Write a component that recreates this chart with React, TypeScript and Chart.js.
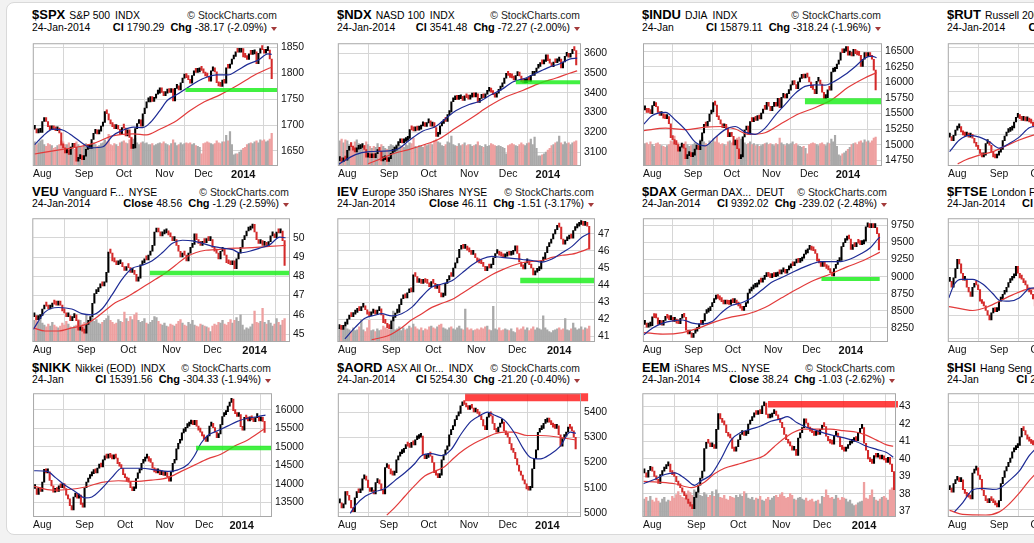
import React, { useEffect, useRef } from "react";
import { Chart, registerables } from "chart.js";

Chart.register(...registerables);

const FONT = "'Liberation Sans', Arial, Helvetica, sans-serif";

const monthLabels = ["Aug", "Sep", "Oct", "Nov", "Dec", "2014"];
const monthTicksStd = [4, 26, 47, 68.5, 89, 110];
const monthTicksNikk = [4, 27, 49, 70.6, 92.2, 112.5];

// ---------------- $SPX ----------------
const spxClose = [
  1692, 1685, 1686, 1686,
  1707, 1710, 1707, 1697, 1691, 1697, 1691, 1689, 1694, 1685, 1661, 1656, 1646, 1652, 1643, 1657, 1664, 1657, 1630, 1635, 1638, 1633,
  1640, 1653, 1655, 1655, 1672, 1684, 1689, 1683, 1688, 1698, 1705, 1726, 1722, 1710, 1702, 1697, 1693, 1699, 1692, 1682,
  1695, 1694, 1679, 1691, 1676, 1655, 1656, 1693, 1703, 1710, 1698, 1722, 1733, 1745, 1745, 1755, 1746, 1752, 1760, 1762, 1772, 1763, 1757,
  1762, 1768, 1763, 1770, 1747, 1771, 1772, 1768, 1782, 1791, 1798, 1792, 1788, 1781, 1796, 1805, 1802, 1803, 1807, 1806,
  1801, 1795, 1793, 1785, 1805, 1808, 1803, 1782, 1776, 1775, 1787, 1781, 1811, 1810, 1818, 1828, 1833, 1842, 1841, 1841, 1848,
  1832, 1831, 1827, 1838, 1837, 1838, 1842, 1819, 1839, 1848, 1846, 1839, 1844, 1845, 1828, 1790,
];
const spxVol = [
  25, 22, 24, 26,
  27, 22, 20, 23, 22, 21, 18, 19, 21, 22, 26, 25, 22, 22, 24, 20, 18, 17, 25, 22, 20, 19,
  22, 23, 22, 21, 23, 24, 22, 20, 21, 23, 24, 27, 25, 33, 22, 21, 23, 22, 20, 24,
  25, 26, 24, 23, 27, 30, 28, 29, 24, 22, 24, 25, 23, 24, 22, 22, 23, 21, 22, 23, 24, 23, 25,
  23, 22, 21, 23, 27, 24, 21, 22, 24, 22, 23, 24, 23, 24, 22, 23, 21, 20, 19, 12,
  23, 24, 25, 24, 23, 22, 23, 26, 24, 23, 25, 25, 32, 26, 36, 22, 11, 12, 12, 14, 16,
  18, 19, 22, 23, 24, 23, 25, 26, 24, 27, 26, 27, 25, 26, 28, 34,
];
const spxMa20: [number, number][] = [
  [0, 1662], [4.4, 1679], [9.7, 1692], [15, 1690], [20, 1679], [25.5, 1664], [29.8, 1656], [36, 1658], [41, 1679],
  [46.5, 1690], [52, 1696], [57, 1695], [61, 1705], [66, 1728], [70, 1748], [75, 1759], [80, 1771], [86, 1785],
  [91, 1793], [96, 1797], [102, 1797], [107, 1806], [112, 1817], [118, 1826], [123, 1838], [125, 1837],
];
const spxMa50: [number, number][] = [
  [0, 1644], [9.7, 1650], [20, 1656], [30.7, 1664], [41, 1679], [52, 1683], [59, 1681], [66, 1692], [75, 1709],
  [82, 1728], [89.5, 1745], [98, 1759], [107, 1777], [116, 1797], [123, 1809], [125, 1812],
];

// ---------------- $NDX ----------------
const ndxClose = [
  3058, 3052, 3063, 3060,
  3110, 3130, 3128, 3111, 3102, 3115, 3118, 3124, 3128, 3114, 3075, 3075, 3072, 3080, 3072, 3093, 3108, 3105, 3056, 3062, 3069, 3053,
  3068, 3095, 3104, 3110, 3134, 3148, 3151, 3147, 3154, 3160, 3170, 3214, 3213, 3208, 3213, 3212, 3217, 3233, 3238, 3230,
  3248, 3258, 3232, 3250, 3225, 3180, 3191, 3233, 3245, 3265, 3256, 3290, 3303, 3355, 3365, 3378, 3367, 3370, 3377, 3362, 3385, 3375, 3368,
  3378, 3384, 3380, 3395, 3352, 3372, 3378, 3375, 3393, 3408, 3420, 3404, 3391, 3378, 3398, 3414, 3430, 3448, 3474, 3499,
  3488, 3478, 3476, 3465, 3487, 3495, 3485, 3455, 3450, 3452, 3465, 3458, 3488, 3488, 3505, 3524, 3533, 3550, 3546, 3559, 3592,
  3563, 3550, 3532, 3556, 3552, 3560, 3571, 3526, 3556, 3585, 3590, 3580, 3598, 3620, 3614, 3541,
];
const ndxVol = [
  26, 28, 24, 27,
  26, 22, 24, 20, 25, 27, 23, 20, 19, 21, 25, 22, 20, 18, 20, 19, 23, 18, 22, 20, 18, 17,
  20, 22, 21, 20, 22, 24, 21, 20, 19, 22, 21, 24, 23, 29, 20, 19, 21, 20, 19, 22,
  21, 22, 23, 22, 26, 28, 25, 24, 21, 20, 22, 25, 24, 31, 22, 21, 20, 23, 21, 22, 24, 21, 22,
  22, 20, 21, 22, 25, 21, 20, 19, 22, 20, 21, 23, 22, 21, 20, 21, 20, 19, 18, 12,
  21, 22, 23, 22, 21, 20, 22, 24, 22, 21, 23, 24, 28, 22, 30, 18, 10, 10, 11, 12, 14,
  16, 18, 21, 22, 24, 25, 31, 24, 22, 25, 23, 24, 22, 24, 25, 26,
];
const ndxMa20: [number, number][] = [
  [-0.5, 3040], [8.3, 3088], [15.4, 3103], [26, 3107], [31.3, 3119], [36.6, 3159], [43.7, 3206], [50.7, 3230],
  [56, 3270], [61.3, 3309], [68.4, 3341], [73.7, 3356], [79, 3385], [86.1, 3420], [91.4, 3455], [98.4, 3475],
  [103.7, 3499], [110.8, 3530], [116.1, 3546], [121.5, 3570], [125.5, 3575],
];
const ndxMa50: [number, number][] = [
  [15, 3042], [22, 3068], [29, 3095], [36, 3112], [43.7, 3135], [52.5, 3167], [61.3, 3222], [70.2, 3277],
  [79, 3333], [87.9, 3380], [96.7, 3412], [105.5, 3448], [114.4, 3475], [121.5, 3499], [125.5, 3511],
];

// ---------------- $INDU ----------------
const induClose = [
  15559, 15521, 15520, 15500,
  15628, 15658, 15612, 15518, 15470, 15498, 15425, 15419, 15451, 15337, 15112, 15081, 15010, 15002, 14897, 14963, 15010, 14946, 14776, 14824, 14840, 14810,
  14834, 14930, 14938, 14922, 15063, 15191, 15326, 15300, 15376, 15494, 15529, 15677, 15636, 15452, 15401, 15334, 15273, 15328, 15258, 15130,
  15191, 15134, 14996, 15073, 14936, 14776, 14803, 15127, 15237, 15301, 15168, 15374, 15372, 15400, 15392, 15467, 15413, 15509, 15570, 15568, 15680, 15618, 15546,
  15616, 15639, 15618, 15747, 15594, 15762, 15784, 15751, 15822, 15877, 15962, 15976, 15968, 15901, 16010, 16065, 16073, 16072, 16097, 16086,
  16008, 15915, 15890, 15822, 16020, 16026, 15973, 15844, 15740, 15755, 15884, 15875, 16168, 16179, 16221, 16295, 16358, 16479, 16478, 16505, 16577,
  16441, 16470, 16425, 16531, 16462, 16445, 16437, 16257, 16374, 16482, 16418, 16459, 16415, 16374, 16198, 15879,
];
const induVol = [
  23, 24, 22, 25,
  22, 20, 23, 24, 22, 21, 20, 19, 21, 22, 26, 25, 31, 22, 24, 20, 21, 19, 25, 22, 20, 21,
  22, 24, 23, 21, 27, 30, 25, 23, 22, 26, 24, 28, 25, 31, 24, 22, 23, 22, 21, 25,
  26, 24, 25, 27, 29, 30, 28, 27, 24, 22, 23, 25, 22, 23, 21, 22, 20, 21, 22, 23, 24, 22, 23,
  22, 21, 23, 22, 29, 24, 22, 21, 23, 22, 23, 25, 22, 23, 21, 20, 19, 20, 18, 12,
  22, 23, 24, 23, 22, 21, 23, 24, 22, 21, 24, 23, 28, 25, 32, 20, 11, 10, 12, 13, 15,
  17, 19, 22, 23, 24, 22, 25, 26, 24, 27, 25, 26, 24, 26, 29, 30,
];
const induMa20: [number, number][] = [
  [-0.5, 15334], [4, 15469], [11.2, 15520], [16.6, 15394], [21.9, 15243], [27.3, 15042], [32.7, 14982], [38.1, 15117],
  [43.5, 15243], [48.9, 15293], [54.3, 15203], [59.7, 15168], [65.1, 15268], [70.5, 15469], [75.9, 15645], [81.3, 15821],
  [86.7, 15937], [92.1, 15962], [97.5, 15957], [102.9, 16022], [108.3, 16123], [113.7, 16249], [119.1, 16389], [122.7, 16425], [125.5, 16400],
];
const induMa50: [number, number][] = [
  [-0.5, 15228], [11.2, 15268], [21.9, 15243], [32.7, 15283], [41.7, 15293], [48.9, 15253], [56.1, 15168], [65.1, 15193],
  [74.1, 15344], [83.1, 15494], [92.1, 15595], [101.1, 15721], [110.1, 15922], [119.1, 16073], [125.5, 16158],
];

// ---------------- $RUT (left part visible) ----------------
const rutClose = [
  1046, 1040, 1049, 1058, 1062, 1064, 1055, 1050, 1048, 1052, 1046, 1050, 1044, 1036, 1030, 1025,
  1018, 1012, 1015, 1035, 1038, 1032, 1020, 1012, 1010, 1015, 1020, 1025, 1040, 1048, 1054, 1056,
  1058, 1062, 1072, 1080, 1085, 1078, 1075, 1077, 1074, 1078, 1072, 1070, 1065, 1060,
];
const rutMa20: [number, number][] = [
  [-0.1, 1021], [5.1, 1041], [10.4, 1049], [15.7, 1046], [20.9, 1038], [26.2, 1027], [31.4, 1035], [36.7, 1046], [42, 1062], [45.8, 1065],
];
const rutMa50: [number, number][] = [
  [4.2, 1000], [8.6, 1007], [15.7, 1015], [22.7, 1021], [29.7, 1031], [36.7, 1041], [43.7, 1049], [45.8, 1051],
];

// ---------------- VEU ----------------
const veuClose = [
  45.9, 45.75, 45.8, 45.95,
  46.3, 46.5, 46.45, 46.3, 46.4, 46.6, 46.55, 46.5, 46.7, 46.5, 46.2, 46.1, 45.9, 45.95, 45.7, 45.85, 46.0, 45.7, 45.2, 45.3, 45.15, 45.05,
  45.5, 45.7, 45.9, 46.6, 47.1, 47.2, 47.4, 47.6, 47.5, 47.7, 48.2, 49.25, 49.2, 48.8, 48.75, 48.6, 48.65, 48.7, 48.5, 48.3,
  48.5, 48.45, 48.2, 48.3, 48.1, 47.75, 47.9, 48.6, 48.7, 48.9, 48.85, 49.1, 49.3, 49.6, 50.3, 50.45, 50.3, 50.1, 50.2, 50.25, 50.35, 50.15, 50.05,
  49.85, 49.9, 49.6, 49.3, 49.0, 49.2, 49.1, 48.8, 49.2, 49.5, 49.65, 50.2, 49.9, 49.7, 49.6, 49.8, 49.75, 49.9, 49.85, 49.9,
  49.5, 49.3, 49.2, 48.9, 49.3, 49.4, 49.1, 48.7, 48.65, 48.6, 48.8, 48.4, 48.9, 49.2, 49.5, 49.9, 50.1, 50.35, 50.4, 50.5, 50.7,
  50.3, 49.9, 49.7, 49.85, 49.6, 49.7, 49.55, 49.8, 50.1, 50.2, 50.0, 50.3, 50.25, 50.35, 49.85, 48.56,
];
const veuVol = [
  22, 25, 20, 24,
  19, 17, 15, 18, 16, 20, 17, 15, 14, 16, 19, 17, 21, 18, 15, 14, 16, 17, 23, 22, 18, 20,
  28, 22, 20, 25, 21, 23, 19, 18, 20, 22, 24, 27, 22, 20, 18, 19, 23, 21, 20, 31,
  24, 21, 26, 23, 28, 30, 22, 20, 21, 24, 19, 18, 20, 22, 26, 25, 21, 18, 17, 19, 16, 15, 18,
  17, 16, 18, 21, 23, 19, 17, 16, 20, 18, 22, 17, 16, 15, 18, 17, 16, 15, 14, 10,
  16, 18, 17, 20, 19, 22, 18, 17, 20, 23, 19, 22, 25, 21, 28, 17, 12, 14, 13, 15, 18,
  32, 20, 19, 21, 35, 20, 18, 22, 19, 16, 18, 24, 20, 17, 22, 24,
];
const veuMa20: [number, number][] = [
  [-0.5, 45.24], [5.3, 46.14], [12, 46.38], [18.7, 46.3], [23.7, 46.06], [28.8, 46.0], [33.8, 46.3], [38.8, 47.03],
  [43.8, 47.84], [48.9, 48.41], [53.9, 48.57], [58.9, 48.81], [63.9, 49.22], [69, 49.71], [74, 49.87], [79, 49.84],
  [84, 49.71], [89, 49.55], [94.1, 49.46], [99.1, 49.38], [102.5, 49.22], [107.5, 49.3], [112.5, 49.46], [117.5, 49.63],
  [122.6, 50.03], [125.5, 50.0],
];
const veuMa50: [number, number][] = [
  [-0.5, 45.32], [5.3, 45.16], [12, 45.16], [18.7, 45.32], [25.4, 45.49], [30.4, 45.81], [35.4, 46.22], [40.4, 46.62],
  [45.4, 46.87], [50.5, 47.19], [55.5, 47.52], [60.5, 47.84], [65.5, 48.17], [70.5, 48.57], [75.5, 48.98], [80.5, 49.22],
  [85.6, 49.35], [90.6, 49.38], [97.3, 49.45], [104, 49.46], [110.7, 49.5], [117.4, 49.55], [125.5, 49.6],
];

// ---------------- IEV ----------------
const ievClose = [
  41.45, 41.4, 41.6, 41.7,
  42.0, 42.2, 42.15, 42.3, 42.4, 42.6, 42.5, 42.7, 42.75, 42.55, 42.3, 42.2, 42.35, 42.45, 42.3, 42.5, 42.6, 42.25, 41.8, 41.75, 41.5, 41.45,
  41.9, 42.1, 42.35, 42.4, 42.85, 43.2, 43.3, 43.25, 43.55, 43.7, 43.6, 44.6, 44.5, 44.15, 44.2, 44.1, 44.25, 44.15, 44.1, 43.9,
  44.2, 44.1, 43.8, 44.0, 43.55, 43.3, 43.4, 44.1, 44.3, 44.55, 44.5, 45.0, 45.3, 45.6, 46.1, 46.25, 46.15, 46.2, 46.05, 45.95, 45.8, 45.85, 45.6,
  45.35, 45.3, 45.25, 45.1, 44.85, 45.05, 45.0, 45.2, 45.6, 45.85, 45.9, 45.75, 45.7, 45.6, 45.7, 45.8, 45.75, 45.8, 46.0, 46.3,
  45.85, 45.35, 45.1, 44.95, 45.3, 45.45, 45.2, 45.0, 44.6, 44.75, 44.85, 44.95, 45.4, 45.5, 45.9, 46.25, 46.45, 46.7, 47.0, 47.25, 47.5,
  47.4, 46.7, 46.4, 46.6, 46.7, 46.85, 46.75, 47.2, 47.35, 47.45, 47.55, 47.6, 47.5, 47.55, 47.45, 46.11,
];
const ievVol = [
  14, 16, 12, 17,
  13, 12, 10, 14, 11, 12, 15, 23, 12, 10, 14, 22, 11, 12, 10, 13, 11, 12, 16, 14, 13, 12,
  14, 32, 12, 13, 15, 11, 14, 12, 13, 16, 14, 18, 15, 13, 12, 14, 11, 13, 12, 15,
  16, 14, 13, 15, 17, 18, 14, 13, 12, 14, 15, 13, 12, 14, 16, 13, 12, 34, 14, 12, 13, 11, 12,
  13, 12, 14, 13, 15, 16, 12, 11, 37, 13, 12, 14, 11, 12, 13, 12, 11, 13, 10, 9,
  14, 12, 13, 15, 12, 14, 11, 13, 15, 12, 14, 13, 12, 27, 14, 12, 10, 9, 11, 12, 13,
  14, 12, 13, 24, 12, 11, 13, 19, 14, 12, 13, 15, 12, 14, 13, 16,
];
const ievMa20: [number, number][] = [
  [2.8, 40.85], [7.8, 41.5], [12.8, 42.05], [17.8, 42.23], [21.2, 42.32], [26.2, 42.19], [31.2, 42.32], [36.2, 42.69],
  [41.3, 43.33], [46.3, 43.88], [51.3, 44.06], [56.3, 44.25], [61.3, 44.7], [66.3, 45.17], [71.3, 45.53], [76.3, 45.68],
  [81.4, 45.62], [86.4, 45.57], [91.4, 45.5], [96.4, 45.44], [101.4, 45.35], [106.4, 45.53], [111.4, 45.9], [116.4, 46.27],
  [121.5, 46.82], [125.3, 47.05],
];
const ievMa50: [number, number][] = [
  [16.2, 40.8], [24.6, 41.04], [31.2, 41.5], [36.2, 41.96], [41.3, 42.32], [46.3, 42.69], [51.3, 42.93], [56.3, 43.15],
  [61.3, 43.51], [66.3, 43.88], [71.3, 44.25], [76.3, 44.61], [81.4, 44.89], [86.4, 45.13], [91.4, 45.31], [96.4, 45.39],
  [101.4, 45.44], [106.4, 45.62], [111.4, 45.75], [116.4, 45.81], [121.5, 45.99], [125.3, 46.17],
];

// ---------------- $DAX ----------------
const daxClose = [
  8300, 8260, 8275, 8280,
  8410, 8400, 8395, 8300, 8355, 8290, 8360, 8420, 8390, 8370, 8390, 8345, 8365, 8320, 8310, 8390, 8420, 8405, 8215, 8160, 8175, 8110,
  8170, 8200, 8240, 8310, 8300, 8350, 8460, 8480, 8500, 8560, 8620, 8670, 8720, 8680, 8660, 8635, 8600, 8650, 8600, 8595,
  8660, 8620, 8640, 8600, 8570, 8540, 8505, 8560, 8610, 8760, 8790, 8820, 8845, 8850, 8890, 8930, 8920, 8960, 9000, 9020, 9005, 8985, 9030,
  9000, 9010, 9060, 9040, 9070, 9080, 9050, 9100, 9130, 9170, 9160, 9200, 9220, 9210, 9230, 9270, 9330, 9350, 9400, 9410,
  9390, 9380, 9340, 9230, 9200, 9150, 9170, 9150, 9120, 9100, 9060, 9010, 9120, 9180, 9220, 9240, 9440, 9500, 9535, 9580, 9552,
  9400, 9470, 9440, 9500, 9490, 9470, 9480, 9520, 9730, 9740, 9720, 9745, 9720, 9720, 9630, 9392,
];
const daxMa20: [number, number][] = [
  [-0.5, 8149], [4.4, 8250], [9.7, 8319], [14.9, 8351], [20.2, 8365], [25.4, 8319], [30.7, 8305], [35.9, 8342],
  [41.2, 8479], [46.5, 8580], [51.7, 8617], [57, 8686], [62.3, 8800], [67.5, 8915], [72.8, 8984], [78.1, 9053],
  [83.3, 9122], [88.6, 9181], [93.9, 9222], [99.1, 9222], [104.4, 9222], [109.7, 9259], [114.9, 9328], [120.2, 9420],
  [124.6, 9557], [125.5, 9580],
];
const daxMa50: [number, number][] = [
  [-0.5, 8181], [9.7, 8158], [20.2, 8181], [29, 8250], [37.8, 8342], [46.5, 8411], [55.3, 8456], [64.1, 8548],
  [72.8, 8686], [81.6, 8823], [90.4, 8947], [99.1, 9039], [107.9, 9144], [116.7, 9236], [125.5, 9360],
];

// ---------------- $FTSE (left part visible) ----------------
const ftseClose = [
  6545, 6520, 6560, 6600, 6640, 6620, 6580, 6550, 6555, 6520, 6500, 6480, 6520, 6535, 6530, 6510,
  6460, 6450, 6440, 6420, 6400, 6380, 6410, 6430, 6415, 6420, 6460, 6470, 6490, 6500, 6520, 6540,
  6550, 6560, 6570, 6610, 6580, 6560, 6555, 6540, 6530, 6510, 6500, 6490, 6470, 6440, 6420,
];
const ftseMa20: [number, number][] = [
  [-0.5, 6474], [2.5, 6534], [6, 6554], [12.1, 6554], [17.4, 6534], [22.7, 6493], [26.2, 6464], [31.4, 6460], [36.7, 6474], [42, 6514], [45.8, 6518],
];
const ftseMa50: [number, number][] = [
  [-0.5, 6437], [6.9, 6426], [12.1, 6420], [19.1, 6433], [26.2, 6460], [33.2, 6487], [40.2, 6510], [45.8, 6514],
];

// ---------------- $NIKK ----------------
const nikkClose = [
  13880, 13720, 13900, 13800, 14050, 14400, 14300, 14330, 14100, 13950, 13780, 13870, 13800, 13950, 13900, 14010, 13880,
  13700, 13600, 13420, 13300, 13650, 13750, 13620, 13700, 13450, 13380, 13900, 14050, 14150, 14220, 14280, 14350, 14300,
  14430, 14500, 14460, 14650, 14760, 14700, 14740, 14720, 14680, 14760, 14700, 14550, 14480, 14420, 14250, 14170, 14080, 14050,
  13900, 13820, 13880, 14150, 14300, 14380, 14560, 14620, 14700, 14740, 14620, 14580, 14430, 14330, 14300, 14380, 14250, 14300,
  14230, 14280, 14200, 14080, 14330, 14560, 14650, 14950, 15100, 15180, 15380, 15420, 15520, 15560, 15620, 15680, 15600, 15720,
  15560, 15450, 15400, 15300, 15220, 15150, 15300, 15560, 15640, 15520, 15400, 15250, 15350, 15600, 15820, 15870, 15950,
  16100, 16200, 16290, 15980, 15900, 15820, 15870, 15550, 15450, 15800, 15750, 15700, 15810, 15730, 15680, 15790, 15820,
  15700, 15720, 15690, 15390,
];
const nikkMa20: [number, number][] = [
  [-0.5, 14359], [6.7, 14342], [11.2, 14173], [16.6, 13963], [22, 13795], [27.4, 13626], [31, 13652], [36.4, 13879],
  [41.8, 14173], [47.2, 14426], [52.6, 14426], [58, 14426], [65.2, 14384], [72.4, 14342], [77.8, 14384], [83.2, 14527],
  [86.8, 14763], [90.4, 15099], [94, 15310], [99.4, 15436], [104.8, 15562], [110.2, 15689], [115.6, 15773], [121, 15815], [125.5, 15857],
];
const nikkMa50: [number, number][] = [
  [-0.5, 13938], [9.4, 13837], [18.4, 13854], [27.4, 13921], [36.4, 14047], [45.4, 14089], [54.4, 14072], [63.4, 14106],
  [72.4, 14173], [79.6, 14342], [86.8, 14510], [94, 14678], [101.2, 14805], [108.4, 15015], [115.6, 15183], [124.6, 15478],
];

// ---------------- $AORD ----------------
const aordClose = [
  5040, 5020, 5035, 5085, 5070, 5050, 5020, 5005, 5060, 5085, 5080, 5090, 5135, 5145, 5130,
  5100, 5085, 5090, 5075, 5120, 5130, 5115, 5090, 5075, 5180, 5190, 5175, 5155, 5150, 5160,
  5210, 5225, 5235, 5240, 5255, 5270, 5265, 5260, 5280, 5270, 5290, 5295, 5300, 5305, 5230, 5215, 5220,
  5230, 5225, 5200, 5160, 5150, 5140, 5150, 5210, 5230, 5250, 5265, 5310, 5330, 5345, 5370, 5385, 5395,
  5425, 5440, 5430, 5420, 5410, 5425, 5415, 5400, 5410, 5395, 5385, 5370, 5345, 5330, 5380, 5390, 5385,
  5355, 5330, 5320, 5340, 5355, 5360, 5325, 5310, 5300, 5275, 5250, 5240, 5215, 5190, 5165, 5150, 5130, 5115,
  5095, 5090, 5100, 5175, 5215, 5250, 5320, 5330, 5335, 5355, 5360, 5370, 5360, 5350, 5340, 5335, 5345,
  5310, 5265, 5295, 5305, 5320, 5340, 5335, 5325, 5300, 5254,
];
const aordMa20: [number, number][] = [
  [5.6, 4998], [8.2, 5029], [13.5, 5066], [18.7, 5084], [24, 5097], [29.2, 5128], [34.5, 5159], [39.8, 5196],
  [43.3, 5227], [48.5, 5235], [53.8, 5227], [59, 5251], [64.3, 5313], [69.5, 5363], [74.8, 5388], [78.3, 5400],
  [81.8, 5388], [87.1, 5369], [92.3, 5320], [97.6, 5251], [101.1, 5220], [106.3, 5214], [111.6, 5233], [116.8, 5264],
  [122.1, 5320], [125.2, 5316],
];
const aordMa50: [number, number][] = [
  [24.9, 4991], [29.2, 5022], [34.5, 5066], [39.8, 5109], [45, 5146], [50.3, 5165], [55.5, 5183], [60.8, 5220],
  [66, 5251], [71.3, 5276], [76.5, 5295], [81.8, 5313], [87.1, 5320], [92.3, 5320], [99.3, 5307], [106.3, 5307],
  [113.3, 5303], [120.3, 5295], [125.2, 5289],
];

// ---------------- EEM ----------------
const eemClose = [
  39.2, 38.95, 39.35, 39.45, 39.3, 39.0, 38.8, 38.6, 39.1, 39.3, 39.45, 39.6, 39.7, 39.25, 39.1, 39.0,
  38.7, 38.5, 38.35, 38.1, 37.9, 37.7, 37.45, 37.3, 37.15, 37.8, 38.1, 38.5, 38.9, 39.3, 40.6, 40.95,
  40.9, 40.7, 40.75, 40.6, 41.7, 42.6, 42.3, 42.1, 41.95, 41.5, 41.3, 41.2, 40.6, 40.45, 40.7, 41.1, 41.4,
  41.5, 41.35, 41.45, 42.0, 42.2, 42.4, 42.65, 42.55, 42.7, 42.6, 43.05, 43.2, 42.55, 42.35, 42.4,
  42.6, 42.75, 42.5, 42.3, 42.1, 41.8, 41.4, 41.1, 40.9, 40.75, 40.5, 40.55, 40.2, 41.2, 41.5, 41.8,
  42.3, 42.05, 41.8, 41.6, 41.5, 41.35, 41.45, 41.4, 41.7, 41.9, 41.85, 41.3, 41.05, 40.9, 40.85,
  41.35, 41.45, 41.25, 40.7, 40.55, 40.45, 40.6, 40.8, 40.9, 41.0, 41.1, 41.05, 41.5, 41.75, 41.8,
  40.9, 40.5, 40.0, 39.85, 39.75, 40.2, 40.1, 40.15, 40.0, 40.05, 39.95, 39.8, 40.1, 39.7, 39.27, 38.24,
];
const eemVol = [
  18, 20, 16, 21,
  17, 15, 19, 16, 14, 18, 20, 15, 17, 16, 21, 19, 23, 26, 22, 20, 19, 24, 27, 25, 22, 28,
  24, 29, 22, 21, 25, 23, 20, 22, 26, 21, 28, 24, 20, 19, 22, 18, 17, 21, 20, 19,
  22, 20, 23, 21, 26, 24, 19, 18, 20, 17, 19, 18, 21, 17, 16, 18, 20, 17, 19, 21, 22, 20, 23,
  25, 21, 19, 20, 24, 22, 18, 17, 19, 20, 18, 17, 19, 16, 17, 18, 15, 16, 17, 13,
  21, 20, 28, 22, 19, 20, 18, 22, 19, 17, 20, 19, 18, 15, 17, 13, 11, 12, 14, 15, 16,
  36, 19, 18, 22, 28, 20, 17, 16, 18, 20, 21, 19, 17, 28, 30, 29,
];
const eemMa20: [number, number][] = [
  [-0.5, 38.58], [5.3, 38.84], [10.3, 39.11], [15.2, 39.2], [20.2, 38.9], [25.2, 38.49], [28.5, 38.75], [33.5, 39.11],
  [38.4, 40.0], [43.4, 41.08], [48.4, 41.53], [53.3, 41.71], [58.3, 41.89], [63.3, 42.16], [68.3, 42.3], [71.6, 42.43],
  [76.5, 42.07], [81.5, 41.8], [86.5, 41.62], [91.4, 41.44], [96.4, 41.3], [101.4, 41.17], [106.3, 40.99], [111.3, 40.73],
  [116.3, 40.55], [121.3, 40.37], [124.6, 40.1],
];
const eemMa50: [number, number][] = [
  [-0.5, 38.72], [6.9, 38.67], [15.2, 38.58], [23.5, 38.36], [30.1, 38.67], [35.1, 39.15], [40.1, 39.47], [46.7, 39.69],
  [53.3, 39.92], [59.9, 40.19], [64.9, 40.69], [69.9, 41.17], [74.8, 41.53], [79.8, 41.71], [86.5, 41.71], [93.1, 41.71],
  [99.7, 41.62], [106.4, 41.53], [111.3, 41.35], [116.3, 41.08], [121.3, 40.81], [124.6, 40.73],
];

// ---------------- $HSI (left part visible) ----------------
const hsiClose = [
  21960, 21900, 22100, 22180, 22200, 22150, 22190, 21960, 21870, 21800, 21780, 21740, 22350, 22420, 22470,
  22300, 22200, 21950, 21820, 21700, 21650, 21750, 21700, 21650, 21600, 21550, 21700, 22100, 22250, 22400,
  22500, 22600, 22700, 22850, 22900, 22950, 23000, 23200, 23400, 23350, 23250, 23150, 23100, 23050, 23020, 22980, 23120,
];
const hsiMa20: [number, number][] = [
  [2.5, 21436], [6.9, 21656], [12.1, 21951], [17.4, 21987], [22.7, 21965], [26.2, 21987], [31.4, 22172], [36.7, 22393], [42, 22759], [45.8, 22944],
];
const hsiMa50: [number, number][] = [
  [-0.1, 21473], [6.9, 21378], [19.1, 21363], [26.2, 21436], [31.4, 21621], [36.7, 21876], [42, 22172], [45.8, 22355],
];

// ---------------- layout ----------------
type Pair = [number, number];
interface Band { from: number; to: number; value: number; thick: number; color: string }
interface PanelCfg {
  ticker: string; name: string; exch: string; date: string; clLabel: string; cl: string; chg: string;
  col: number; row: number; plotW: number; yMin: number; yMax: number; yTicks: number[]; xMax: number;
  months: number[]; closes: number[]; vol?: number[]; ma20: Pair[]; ma50: Pair[]; band?: Band;
}

const GREEN = "rgba(25, 238, 25, 0.82)";
const RED = "rgba(255, 25, 25, 0.82)";

const panels: PanelCfg[] = [
  { ticker: "$SPX", name: "S&P 500", exch: "INDX", date: "24-Jan-2014", clLabel: "Cl", cl: "1790.29", chg: "-38.17 (-2.09%)",
    col: 0, row: 0, plotW: 245, yMin: 1622.7, yMax: 1856.5, yTicks: [1650, 1700, 1750, 1800, 1850], xMax: 127.8,
    months: monthTicksStd, closes: spxClose, vol: spxVol, ma20: spxMa20, ma50: spxMa50,
    band: { from: 79.5, to: 127.8, value: 1768, thick: 4, color: GREEN } },
  { ticker: "$NDX", name: "NASD 100", exch: "INDX", date: "24-Jan-2014", clLabel: "Cl", cl: "3541.48", chg: "-72.27 (-2.00%)",
    col: 1, row: 0, plotW: 243, yMin: 3035.5, yMax: 3645.5, yTicks: [3100, 3200, 3300, 3400, 3500, 3600], xMax: 127,
    months: monthTicksStd, closes: ndxClose, vol: ndxVol, ma20: ndxMa20, ma50: ndxMa50,
    band: { from: 93.1, to: 127, value: 3453, thick: 4, color: GREEN } },
  { ticker: "$INDU", name: "DJIA", exch: "INDX", date: "24-Jan", clLabel: "Cl", cl: "15879.11", chg: "-318.24 (-1.96%)",
    col: 2, row: 0, plotW: 239, yMin: 14674.6, yMax: 16614.6, yTicks: [14750, 15000, 15250, 15500, 15750, 16000, 16250, 16500], xMax: 127.9,
    months: monthTicksStd, closes: induClose, vol: induVol, ma20: induMa20, ma50: induMa50,
    band: { from: 86.7, to: 127.9, value: 15700, thick: 6, color: GREEN } },
  { ticker: "$RUT", name: "Russell 2000 Small Cap", exch: "INDX", date: "24-Jan-2014", clLabel: "Cl", cl: "1143.19", chg: "-24.10 (-2.07%)",
    col: 3, row: 0, plotW: 245, yMin: 998, yMax: 1206, yTicks: [1025, 1050, 1075, 1100, 1125, 1150, 1175, 1200], xMax: 128,
    months: monthTicksStd, closes: rutClose, ma20: rutMa20, ma50: rutMa50 },
  { ticker: "VEU", name: "Vanguard F...", exch: "NYSE", date: "24-Jan-2014", clLabel: "Close", cl: "48.56", chg: "-1.29 (-2.59%)",
    col: 0, row: 1, plotW: 257, yMin: 44.64, yMax: 50.96, yTicks: [45, 46, 47, 48, 49, 50], xMax: 127.2,
    months: monthTicksStd, closes: veuClose, vol: veuVol, ma20: veuMa20, ma50: veuMa50,
    band: { from: 57.7, to: 127.2, value: 48.17, thick: 4.5, color: GREEN } },
  { ticker: "IEV", name: "Europe 350 iShares", exch: "NYSE", date: "24-Jan-2014", clLabel: "Close", cl: "46.11", chg: "-1.51 (-3.17%)",
    col: 1, row: 1, plotW: 257, yMin: 40.72, yMax: 47.86, yTicks: [41, 42, 43, 44, 45, 46, 47], xMax: 127.4,
    months: monthTicksStd, closes: ievClose, vol: ievVol, ma20: ievMa20, ma50: ievMa50,
    band: { from: 90.5, to: 127.4, value: 44.27, thick: 5.5, color: GREEN } },
  { ticker: "$DAX", name: "German DAX...", exch: "DEUT", date: "24-Jan-2014", clLabel: "Cl", cl: "9392.02", chg: "-239.02 (-2.48%)",
    col: 2, row: 1, plotW: 245, yMin: 8057, yMax: 9842, yTicks: [8250, 8500, 8750, 9000, 9250, 9500, 9750], xMax: 129.3,
    months: monthTicksStd, closes: daxClose, ma20: daxMa20, ma50: daxMa50,
    band: { from: 94.3, to: 125.4, value: 8965, thick: 4, color: GREEN } },
  { ticker: "$FTSE", name: "London FTSE 100", exch: "INDX", date: "24-Jan-2014", clLabel: "Cl", cl: "6663.74", chg: "-109.49 (-1.62%)",
    col: 3, row: 1, plotW: 245, yMin: 6289, yMax: 6812, yTicks: [6300, 6400, 6500, 6600, 6700, 6800], xMax: 128,
    months: monthTicksStd, closes: ftseClose, ma20: ftseMa20, ma50: ftseMa50 },
  { ticker: "$NIKK", name: "Nikkei (EOD)", exch: "INDX", date: "24-Jan", clLabel: "Cl", cl: "15391.56", chg: "-304.33 (-1.94%)",
    col: 0, row: 2, plotW: 239, yMin: 13139, yMax: 16421, yTicks: [13500, 14000, 14500, 15000, 15500, 16000], xMax: 128.5,
    months: monthTicksNikk, closes: nikkClose, ma20: nikkMa20, ma50: nikkMa50,
    band: { from: 87.7, to: 128.5, value: 14973, thick: 4.5, color: GREEN } },
  { ticker: "$AORD", name: "ASX All Or...", exch: "INDX", date: "24-Jan-2014", clLabel: "Cl", cl: "5254.30", chg: "-21.20 (-0.40%)",
    col: 1, row: 2, plotW: 243, yMin: 4987.7, yMax: 5470.6, yTicks: [5000, 5100, 5200, 5300, 5400], xMax: 127.3,
    months: monthTicksStd, closes: aordClose, ma20: aordMa20, ma50: aordMa50,
    band: { from: 66.4, to: 131.6, value: 5459, thick: 8, color: RED } },
  { ticker: "EEM", name: "iShares MS...", exch: "NYSE", date: "24-Jan-2014", clLabel: "Close", cl: "38.24", chg: "-1.03 (-2.62%)",
    col: 2, row: 2, plotW: 253, yMin: 36.73, yMax: 43.71, yTicks: [37, 38, 39, 40, 41, 42, 43], xMax: 125.5,
    months: monthTicksStd, closes: eemClose, vol: eemVol, ma20: eemMa20, ma50: eemMa50,
    band: { from: 61.9, to: 127, value: 43.14, thick: 6.5, color: RED } },
  { ticker: "$HSI", name: "Hang Seng Index", exch: "INDX", date: "24-Jan", clLabel: "Cl", cl: "22450.06", chg: "-283.84 (-1.25%)",
    col: 3, row: 2, plotW: 245, yMin: 21339, yMax: 24205, yTicks: [21500, 22000, 22500, 23000, 23500, 24000], xMax: 128,
    months: monthTicksStd, closes: hsiClose, ma20: hsiMa20, ma50: hsiMa50 },
];

const COL_LEFT = [32, 337, 642, 947];
const ROW_TOP = [36, 211, 386];
const ROW_H = [129, 130, 130];
const BASE1 = [19.3, 195.7, 371.7];
const BASE2 = [31.6, 207.3, 383.3];
const PAD = 2;
const AXIS_W = 40;
const AXIS_H = 16;

const framePlugin = {
  id: "frame",
  afterDatasetsDraw(chart: any) {
    const { ctx, chartArea: a } = chart;
    ctx.save();
    ctx.strokeStyle = "#a8a8a8";
    ctx.lineWidth = 1;
    ctx.strokeRect(a.left - 0.5, a.top - 0.5, a.right - a.left + 1, a.bottom - a.top + 1);
    ctx.restore();
  },
};

function Panel({ c }: { c: PanelCfg }) {
  const ref = useRef<HTMLCanvasElement | null>(null);
  const left = COL_LEFT[c.col];
  const top = ROW_TOP[c.row];
  const h = ROW_H[c.row];
  const cw = PAD + c.plotW + AXIS_W;
  const ch = PAD + h + AXIS_H;

  useEffect(() => {
    if (!ref.current) return;
    const closes = c.closes;
    const up = closes.map((v, i) => i === 0 || v >= closes[i - 1]);
    const pxPerBar = c.plotW / (c.xMax + 0.5);
    const datasets: any[] = [];
    if (c.band) {
      datasets.push({
        type: "line", yAxisID: "y", order: 0,
        data: [{ x: c.band.from, y: c.band.value }, { x: c.band.to, y: c.band.value }],
        borderColor: c.band.color, borderWidth: c.band.thick, borderCapStyle: "butt",
        pointRadius: 0, clip: { left: 0, top: 6, right: 12, bottom: 0 },
      });
    }
    datasets.push({
      type: "line", yAxisID: "y", order: 1,
      data: c.ma20.map(([x, y]) => ({ x, y })),
      borderColor: "#1d2b95", borderWidth: 1.2, pointRadius: 0, cubicInterpolationMode: "monotone",
    });
    datasets.push({
      type: "line", yAxisID: "y", order: 2,
      data: c.ma50.map(([x, y]) => ({ x, y })),
      borderColor: "#e23b3b", borderWidth: 1.2, pointRadius: 0, cubicInterpolationMode: "monotone",
    });
    datasets.push({
      type: "bar", yAxisID: "y", order: 3, grouped: false,
      data: closes.map((v, i) => {
        const p = i === 0 ? v : closes[i - 1];
        return { x: i, y: [Math.min(p, v), Math.max(p, v)] };
      }),
      backgroundColor: up.map((u) => (u ? "#000000" : "#d42a2a")),
      barThickness: 1.4, minBarLength: 4,
    });
    if (c.vol) {
      datasets.push({
        type: "bar", yAxisID: "yv", order: 4, grouped: false,
        data: c.vol.map((v, i) => ({ x: i, y: v })),
        backgroundColor: up.map((u) => (u ? "#a9a9a9" : "#eea0a0")),
        barThickness: pxPerBar * 0.82,
      });
    }
    const chart = new Chart(ref.current, {
      type: "bar",
      data: { datasets },
      plugins: [framePlugin],
      options: {
        animation: false,
        responsive: false,
        maintainAspectRatio: false,
        devicePixelRatio: 1,
        events: [],
        layout: { padding: { left: PAD, top: PAD, right: 0, bottom: 0 } },
        plugins: { legend: { display: false }, tooltip: { enabled: false }, title: { display: false } },
        scales: {
          x: {
            type: "linear", min: -0.5, max: c.xMax, offset: false, position: "bottom",
            afterBuildTicks: (s: any) => { s.ticks = c.months.map((v) => ({ value: v })); },
            afterFit: (s: any) => { s.height = AXIS_H; },
            grid: { color: "#d6d6d6", drawTicks: false, lineWidth: 1 },
            border: { display: false },
            ticks: {
              autoSkip: false, maxRotation: 0, minRotation: 0, padding: 3, color: "#111",
              font: (ctx: any) => ({ family: FONT, size: ctx.index === 5 ? 11 : 10.4, weight: ctx.index === 5 ? "bold" : "normal" }),
              callback: (_v: any, i: number) => monthLabels[i],
            },
          },
          y: {
            type: "linear", position: "right", min: c.yMin, max: c.yMax,
            afterBuildTicks: (s: any) => { s.ticks = c.yTicks.map((v) => ({ value: v })); },
            afterFit: (s: any) => { s.width = AXIS_W; },
            grid: { color: "#d6d6d6", drawTicks: false, lineWidth: 1 },
            border: { display: false },
            ticks: { padding: 4, color: "#111", font: { family: FONT, size: 10.4 }, callback: (v: any) => String(v) },
          },
          yv: { type: "linear", display: false, min: 0, max: 130 },
        },
      } as any,
    } as any);
    return () => chart.destroy();
  }, []);

  const small = 10.4;
  return (
    <>
      <div style={{ position: "absolute", left, top: BASE1[c.row] - 12, width: c.plotW, height: 15, lineHeight: "15px",
        display: "flex", alignItems: "baseline", whiteSpace: "nowrap", fontFamily: FONT, color: "#000" }}>
        <span style={{ fontWeight: "bold", fontSize: 13 }}>{c.ticker}</span>
        <span style={{ fontSize: small, marginLeft: 4 }}>{c.name}</span>
        <span style={{ fontSize: small, marginLeft: 5 }}>{c.exch}</span>
        <span style={{ fontSize: small, marginLeft: "auto", color: "#222" }}>© StockCharts.com</span>
      </div>
      <div style={{ position: "absolute", left, top: BASE2[c.row] - 11.3, width: c.plotW, height: 15, lineHeight: "15px",
        display: "flex", alignItems: "baseline", whiteSpace: "nowrap", fontFamily: FONT, color: "#000" }}>
        <span style={{ fontSize: small }}>{c.date}</span>
        <span style={{ fontSize: 11, fontWeight: "bold", marginLeft: "auto" }}>{c.clLabel}</span>
        <span style={{ fontSize: small, marginLeft: 3 }}>{c.cl}</span>
        <span style={{ fontSize: 11, fontWeight: "bold", marginLeft: 6 }}>Chg</span>
        <span style={{ fontSize: small, marginLeft: 3 }}>{c.chg}</span>
        <span style={{ display: "inline-block", width: 0, height: 0, borderLeft: "3.5px solid transparent",
          borderRight: "3.5px solid transparent", borderTop: "4.5px solid #a33a3a", marginLeft: 4, marginBottom: 1.5 }} />
      </div>
      <canvas ref={ref} width={cw} height={ch}
        style={{ position: "absolute", left: left - PAD, top: top - PAD, width: cw, height: ch }} />
    </>
  );
}

export default function App() {
  return (
    <div style={{ position: "fixed", left: 0, top: 0, width: 1034, height: 543, overflow: "hidden", background: "#f2f2f2" }}>
      <div style={{ position: "absolute", left: 6, top: 2, width: 1100, height: 531, background: "#ffffff",
        border: "1px solid #d9d9d9", borderRadius: 8 }} />
      {panels.map((p) => (
        <Panel key={p.ticker} c={p} />
      ))}
    </div>
  );
}
